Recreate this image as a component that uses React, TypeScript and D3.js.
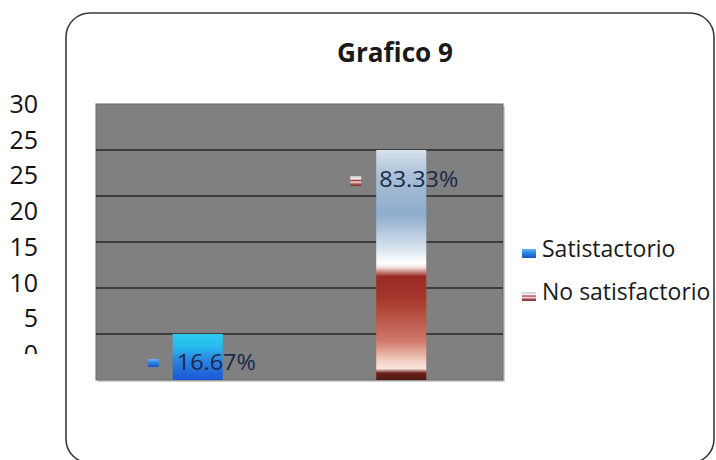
import React from "react";
import * as d3 from "d3";

const categories = ["Satisfactorio", "No satisfactorio"];
const values = [5, 25];
const labels = ["16.67%", "83.33%"];
const legendNames = ["Satistactorio", "No satisfactorio"];
const yTicks = [5, 10, 15, 20, 25];
const yTickLabels = ["30", "25", "25", "20", "15", "10", "5", "0"];
const title = "Grafico 9";

const W = 716;
const H = 460;
const plot = { left: 96, right: 503, top: 104, bottom: 380 };

export default function App() {
  const x = d3
    .scaleBand<string>()
    .domain(categories)
    .range([plot.left, plot.right])
    .paddingInner(0.754)
    .paddingOuter(0.377);
  const y = d3.scaleLinear().domain([0, 30]).range([plot.bottom, plot.top]);
  const lblY = d3
    .scalePoint<number>()
    .domain(yTickLabels.map((_, i) => i))
    .range([113, 363]);

  const bw = x.bandwidth();
  const font = "'Open Sans', sans-serif";

  return (
    <svg
      width={W}
      height={H}
      style={{ position: "absolute", left: 0, top: 0, background: "#fff" }}
    >
      <defs>
        <linearGradient id="gBlue" x1="0" y1="0" x2="0" y2="1">
          <stop offset="0" stopColor="#2cccf2" />
          <stop offset="0.3" stopColor="#27b8ee" />
          <stop offset="0.55" stopColor="#2c86e2" />
          <stop offset="1" stopColor="#1a58d6" />
        </linearGradient>
        <linearGradient id="gFire" x1="0" y1="0" x2="0" y2="1">
          <stop offset="0" stopColor="#d8e3ec" />
          <stop offset="0.11" stopColor="#a9c0d8" />
          <stop offset="0.28" stopColor="#8eaccc" />
          <stop offset="0.43" stopColor="#d8e4ee" />
          <stop offset="0.49" stopColor="#ffffff" />
          <stop offset="0.51" stopColor="#f4e4e0" />
          <stop offset="0.55" stopColor="#9a2a22" />
          <stop offset="0.65" stopColor="#a8382e" />
          <stop offset="0.83" stopColor="#d07868" />
          <stop offset="0.92" stopColor="#f3d2c6" />
          <stop offset="0.95" stopColor="#f8e6e0" />
          <stop offset="0.97" stopColor="#6a2018" />
          <stop offset="1" stopColor="#4a1a14" />
        </linearGradient>
        <linearGradient id="gKeyRed" x1="0" y1="0" x2="0" y2="1">
          <stop offset="0" stopColor="#c8c8d0" />
          <stop offset="0.3" stopColor="#f0f0f0" />
          <stop offset="0.45" stopColor="#b04040" />
          <stop offset="0.6" stopColor="#f0e0e0" />
          <stop offset="0.8" stopColor="#b05050" />
          <stop offset="1" stopColor="#703030" />
        </linearGradient>
        <linearGradient id="gKeyBlue" x1="0" y1="0" x2="0" y2="1">
          <stop offset="0" stopColor="#6fb0ee" />
          <stop offset="0.45" stopColor="#2a86e2" />
          <stop offset="1" stopColor="#1a4fc8" />
        </linearGradient>
        <clipPath id="clipZero">
          <rect x={0} y={0} width={60} height={354} />
        </clipPath>
      </defs>

      {/* outer chart frame */}
      <rect
        x={66}
        y={13}
        width={648}
        height={450}
        rx={24}
        ry={24}
        fill="#fff"
        stroke="#3a3a3a"
        strokeWidth={1.6}
      />

      {/* title */}
      <text
        x={395}
        y={62}
        textAnchor="middle"
        fontFamily={font}
        fontWeight="bold"
        fontSize={26}
        fill="#1a1a1a"
        textLength={116}
        lengthAdjust="spacingAndGlyphs"
      >
        {title}
      </text>

      {/* plot area */}
      <rect
        x={plot.left + 2}
        y={plot.top + 2}
        width={plot.right - plot.left}
        height={plot.bottom - plot.top}
        fill="#cfcfcf"
      />
      <rect
        x={plot.left}
        y={plot.top}
        width={plot.right - plot.left}
        height={plot.bottom - plot.top}
        fill="#808080"
        stroke="#6a6a6a"
        strokeWidth={1}
      />
      {yTicks.map((t) => (
        <line
          key={t}
          x1={plot.left}
          x2={plot.right}
          y1={y(t)}
          y2={y(t)}
          stroke="#262626"
          strokeWidth={1.6}
        />
      ))}

      {/* bars */}
      {categories.map((c, i) => (
        <rect
          key={c}
          x={x(c)!}
          y={y(values[i])}
          width={bw}
          height={y(0) - y(values[i])}
          fill={i === 0 ? "url(#gBlue)" : "url(#gFire)"}
        />
      ))}

      {/* data labels */}
      {categories.map((c, i) => {
        const cx = x(c)! + bw / 2;
        const by = i === 0 ? 370 : 187;
        const tx = i === 0 ? cx - 21 : cx - 22;
        return (
          <g key={c}>
            <rect
              x={tx - 29}
              y={by - 11}
              width={11}
              height={i === 0 ? 8 : 10}
              fill={i === 0 ? "url(#gKeyBlue)" : "url(#gKeyRed)"}
            />
            <text
              x={tx}
              y={by}
              fontFamily={font}
              fontSize={21}
              fill="#1a2a48"
              textLength={79}
              lengthAdjust="spacingAndGlyphs"
            >
              {labels[i]}
            </text>
          </g>
        );
      })}

      {/* legend */}
      {legendNames.map((n, i) => {
        const ly = 257 + i * 43;
        return (
          <g key={n}>
            <rect
              x={522}
              y={ly - 8}
              width={14}
              height={9}
              fill={i === 0 ? "url(#gKeyBlue)" : "url(#gKeyRed)"}
            />
            <text
              x={542}
              y={ly}
              fontFamily={font}
              fontSize={23}
              fill="#1a1a1a"
            >
              {n}
            </text>
          </g>
        );
      })}

      {/* stray y labels outside the frame */}
      <g clipPath="url(#clipZero)">
        {yTickLabels.map((l, i) => (
          <text
            key={i}
            x={38}
            y={lblY(i)}
            textAnchor="end"
            fontFamily={font}
            fontSize={25}
            fill="#111"
          >
            {l}
          </text>
        ))}
      </g>
    </svg>
  );
}
